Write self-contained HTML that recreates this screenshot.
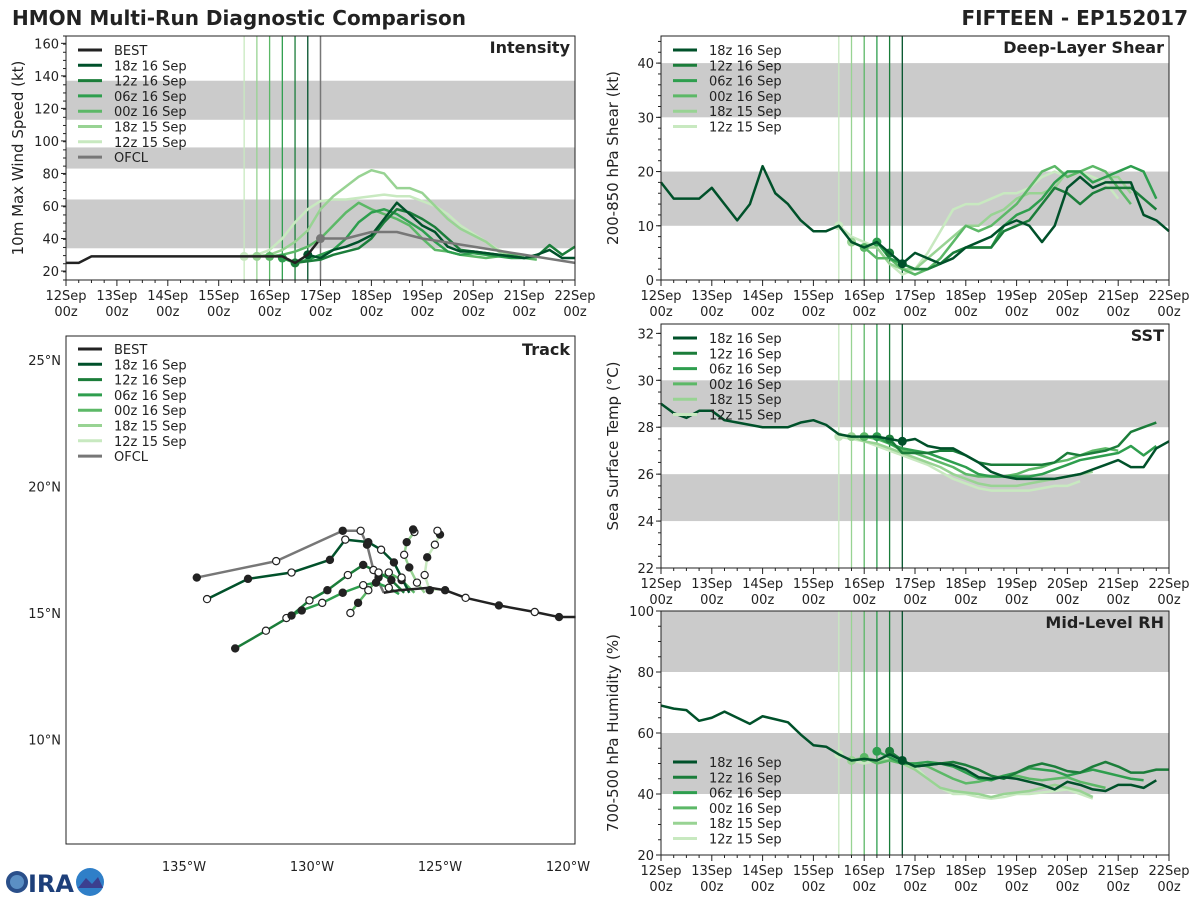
<!DOCTYPE html>
<html><head><meta charset="utf-8"><style>
body{margin:0;background:#fff;}
svg text{font-family:"DejaVu Sans","Liberation Sans",sans-serif;}
</style></head><body>
<svg id="c" width="1200" height="900" viewBox="0 0 1200 900" xmlns="http://www.w3.org/2000/svg">
<text x="12" y="25" font-size="20" font-weight="bold" fill="#222">HMON Multi-Run Diagnostic Comparison</text>
<text x="1188" y="25" font-size="20" font-weight="bold" fill="#222" text-anchor="end">FIFTEEN - EP152017</text>
<g>
<circle cx="17" cy="882" r="11" fill="#2a4f8a"/><circle cx="17" cy="882" r="7" fill="#5b8fc4"/>
<text x="28" y="892" font-size="24" font-weight="bold" fill="#1d3f7a" font-family="Liberation Sans">IRA</text>
<circle cx="90" cy="882" r="14" fill="#2f7fc8"/><path d="M78,888 L86,878 L92,884 L98,877 L103,888Z" fill="#3b3f8f"/>
</g>
</svg>
<script>
const COLORS=["#222222","#00512a","#1b7d3a","#2e9e4e","#5cb867","#98d393","#c8e9c0","#777777"];
const MODEL_NAMES=["18z 16 Sep","12z 16 Sep","06z 16 Sep","00z 16 Sep","18z 15 Sep","12z 15 Sep"];
const MODEL_INIT=[4.75,4.5,4.25,4.0,3.75,3.5];
const MODEL_COLORS=[COLORS[1],COLORS[2],COLORS[3],COLORS[4],COLORS[5],COLORS[6]];
const X_TICKS=["12Sep","13Sep","14Sep","15Sep","16Sep","17Sep","18Sep","19Sep","20Sep","21Sep","22Sep"];
// Intensity (kt), 6-hourly
const INT_BEST=[25,25,29,29,29,29,29,29,29,29,29,29,29,29,29,29,29,29,25,30,40];
const INT_MODELS=[
[30,28,33,35,38,42,52,62,55,48,44,35,32,32,31,30,29,28,30,33,28,28],
[25,26,27,30,32,34,40,50,58,56,52,47,40,33,32,31,30,29,28,29,36,30,35],
[28,25,27,30,33,40,50,56,58,55,50,45,38,32,30,31,30,29,28,28,30],
[29,30,32,35,40,48,56,62,58,55,52,48,40,33,32,30,29,28,29,30,28,27],
[29,30,33,38,45,58,66,72,78,82,80,71,71,68,60,52,46,42,38,32,30,29],
[29,30,33,40,50,58,63,64,64,65,66,67,66,66,63,60,55,48,43,38,33,30,28]];
const INT_OFCL_T=[5.0,5.5,6.0,6.5,7.0,8.0,9.0,10.0];
const INT_OFCL=[40,40,44,44,40,35,30,25];
// Shear (kt)
const SHR_BEST=[18,15,15,15,17,14,11,14,21,16,14,11,9,9,10,7,6,7,5,3];
const SHR_MODELS=[
[3,5,4,3,4,6,7,8,10,11,10,7,10,17,19,17,18,18,18,12,11,9],
[5,3,2,2,3,5,6,6,6,9,10,11,14,17,16,14,16,17,17,17,15,13],
[7,4,3,2,2,3,5,6,6,6,10,12,13,15,18,20,20,18,19,20,21,20,15],
[6,4,4,2,1,2,4,7,10,9,10,12,14,17,20,21,19,20,21,20,17,14],
[7,6,6,3,2,2,4,6,8,10,10,12,13,15,16,16,17,20,20,18,19,19,16],
[10,8,7,6,3,1,2,5,9,13,14,14,15,16,16,17,19,20,19,20,19,18,15]];
// SST (C)
const SST_BEST=[29,28.6,28.4,28.7,28.7,28.3,28.2,28.1,28,28,28,28.2,28.3,28.1,27.7,27.6,27.6,27.6,27.5,27.4];
const SST_MODELS=[
[27.4,27.5,27.2,27.1,27.1,26.8,26.5,26.1,25.9,25.8,25.8,25.8,25.8,25.9,26.0,26.2,26.4,26.6,26.3,26.3,27.1,27.4],
[27.5,26.9,26.9,26.9,27.0,27.0,26.8,26.5,26.4,26.4,26.4,26.4,26.4,26.5,26.9,26.8,26.9,27.0,27.2,27.8,28.0,28.2],
[27.6,27.3,27.1,27.0,26.9,26.7,26.5,26.3,26.0,25.9,25.9,25.9,25.9,26.0,26.2,26.4,26.6,26.7,26.8,26.9,27.2,26.8,27.2],
[27.6,27.5,27.3,27.0,26.9,26.7,26.5,26.3,26.0,25.9,25.9,25.9,26.0,26.2,26.3,26.5,26.6,26.8,27.0,27.1,27.0],
[27.6,27.4,27.3,27.1,26.9,26.7,26.5,26.3,26.0,25.8,25.6,25.5,25.5,25.5,25.6,25.7,25.8,25.9,26.0,26.1],
[27.6,27.5,27.4,27.2,27.0,26.8,26.6,26.4,26.1,25.8,25.6,25.4,25.3,25.3,25.3,25.3,25.4,25.5,25.5,25.7]];
// RH (%)
const RH_BEST=[69,68,67.5,64,65,67,65,63,65.5,64.5,63.5,59.5,56,55.5,53,51,51.5,51,53,51];
const RH_MODELS=[
[51,49,49.5,50,49.5,48,45.5,45,45.5,45,44,43,41.5,44,43,41.5,41,43,43,42,44.5],
[54,51,49,49.5,50,50.5,49.5,48,46,45,47,49,50,49,47.5,47,49,50.5,49,47,47,48,48],
[54,52,50,50,50.5,50,49,47,45,44.5,46,47,48.5,48,47.5,46,47,48,47,46,45,44.5],
[52,50,51,50,50,49,47,45,43.5,44,45,46,46,45,44.5,45,45.5,44,43,42],
[51,52,51,51,50,48,45,42,41,40.5,40,39,40,40.5,41,42,43,42,41,39],
[53,51,50,51,52,51,49,45,42,40,40,39,38.5,39,40,40,40.5,41,41.5,40,38.5]];
// Track (lon, lat)
const TRK_BEST_LON=[-119.7,-120.35,-121.3,-122.7,-124.0,-124.8,-125.4,-126.0,-126.6,-127.2];
const TRK_BEST_LAT=[14.84,14.84,15.04,15.3,15.6,15.9,16.0,15.95,15.9,15.8];
const TRK_OFCL_LON=[-127.2,-127.6,-127.85,-128.1,-128.8,-131.4,-134.5];
const TRK_OFCL_LAT=[15.8,16.7,17.7,18.25,18.25,17.05,16.4];
const TRK_MODELS_LON=[
[-126.2,-126.5,-126.8,-127.3,-127.8,-128.7,-129.3,-130.8,-132.5,-134.1],
[-126.4,-126.9,-127.4,-128.0,-128.6,-129.4,-130.1,-130.8,-131.8,-133.0],
[-126.6,-127.0,-127.5,-128.0,-128.8,-129.6,-130.4,-131.0],
[-126.0,-126.5,-127.0,-127.4,-127.8,-128.2,-128.5],
[-125.6,-125.9,-126.2,-126.4,-126.3,-126.0,-126.05],
[-125.0,-125.4,-125.6,-125.5,-125.2,-125.0,-125.1]];
const TRK_MODELS_LAT=[
[15.8,16.4,17.0,17.5,17.8,17.9,17.1,16.6,16.35,15.55],
[15.8,16.3,16.6,16.9,16.5,15.9,15.5,14.9,14.3,13.6],
[15.75,16.0,16.2,16.1,15.8,15.4,15.1,14.8],
[15.8,16.3,16.6,16.4,15.9,15.4,15.0],
[15.8,16.2,16.8,17.3,17.8,18.2,18.3],
[15.95,15.9,16.5,17.2,17.7,18.1,18.25]];

const svg=document.getElementById('c');
const NS="http://www.w3.org/2000/svg";
function mk(tag,attrs,parent){const e=document.createElementNS(NS,tag);for(const k in attrs)e.setAttribute(k,attrs[k]);(parent||svg).appendChild(e);return e;}

function timePanel(cfg){
  const {x0,x1,y0,y1,ymin,ymax,yticks,bands,title,ylabel,key}=cfg;
  const g=mk('g',{});
  
  
  const X=t=>x0+(x1-x0)*t/10, Y=v=>y1-(y1-y0)*(v-ymin)/(ymax-ymin);
  bands.forEach(b=>{const r=mk('rect',{x:x0,y:Y(b[1]),width:x1-x0,height:Y(b[0])-Y(b[1]),fill:'#cbcbcb'},g);
    
    });
  MODEL_INIT.forEach((t,i)=>{const l=mk('line',{x1:X(t),x2:X(t),y1:y0,y2:y1,stroke:MODEL_COLORS[i],'stroke-width':1.3},g);
    
    });
  if(cfg.ofcl){const l=mk('line',{x1:X(5),x2:X(5),y1:y0,y2:y1,stroke:'#777','stroke-width':1.5},g);
    
    }
  const line=(ts,vs,col,w,name)=>{const p=mk('polyline',{points:vs.map((v,j)=>X(ts[j])+','+Y(v)).join(' '),fill:'none',stroke:col,'stroke-width':w,'stroke-linejoin':'round'},g);
    
    };
  const best=cfg.best;
  for(let i=5;i>=0;i--){const vs=cfg.models[i];const ts=vs.map((_,j)=>MODEL_INIT[i]+j*0.25);
    line(ts,vs,MODEL_COLORS[i],2.5,key+'-series-'+i);
    const d=mk('circle',{cx:X(MODEL_INIT[i]),cy:Y(vs[0]),r:4.5,fill:MODEL_COLORS[i]},g);
    
    }
  line(best.map((_,j)=>j*0.25),best,cfg.bestColor||'#222',2.5,key+'-best');
  if(cfg.ofcl){line(INT_OFCL_T,INT_OFCL,'#777',2.5,'ofcl-series');
    const d=mk('circle',{cx:X(5),cy:Y(INT_OFCL[0]),r:4.5,fill:'#777'},g);
    
    }
  const f=mk('rect',{x:x0,y:y0,width:x1-x0,height:y1-y0,fill:'none',stroke:'#222','stroke-width':1},g);
  
  
  yticks.forEach(v=>{mk('line',{x1:x0-5,x2:x0,y1:Y(v),y2:Y(v),stroke:'#222'},g);
    const t=mk('text',{x:x0-7,y:Y(v)+5,'font-size':13,'text-anchor':'end',fill:'#222'},g);t.textContent=v;
    
    });
  for(let v=ymin;v<=ymax;v+=cfg.minor){if(v<ymin)continue;mk('line',{x1:x0-3,x2:x0,y1:Y(v),y2:Y(v),stroke:'#222'},g);}
  for(let k=0;k<=40;k++){const xx=X(k/4);mk('line',{x1:xx,x2:xx,y1:y1,y2:y1+(k%4?3:6),stroke:'#222'},g);}
  X_TICKS.forEach((s,k)=>{const t=mk('text',{x:X(k),y:y1+20,'font-size':13,'text-anchor':'middle',fill:'#222'},g);t.textContent=s;
    
    
    const t2=mk('text',{x:X(k),y:y1+36,'font-size':13,'text-anchor':'middle',fill:'#222'},g);t2.textContent='00z';});
  const yl=mk('text',{x:0,y:0,'font-size':15,'text-anchor':'middle',fill:'#222',transform:`translate(${x0-43},${(y0+y1)/2}) rotate(-90)`},g);yl.textContent=ylabel;
  
  
  const tt=mk('text',{x:x1-5,y:y0+17,'font-size':16,'font-weight':'bold','text-anchor':'end',fill:'#222'},g);tt.textContent=title;
  
  
  legend(g,cfg.legendX,cfg.legendY,cfg.legendItems);
}
function legend(g,lx,ly,items){
  items.forEach((it,i)=>{const yy=ly+i*15.3;
    mk('line',{x1:lx,x2:lx+24,y1:yy,y2:yy,stroke:it[1],'stroke-width':3},g);
    const t=mk('text',{x:lx+36,y:yy+5,'font-size':13,fill:'#222'},g);t.textContent=it[0];
    
    });
}
const modelItems=MODEL_NAMES.map((n,i)=>[n,MODEL_COLORS[i]]);
const fullItems=[['BEST','#222']].concat(modelItems).concat([['OFCL','#777']]);

timePanel({key:'intensity',x0:66,x1:575,y0:36,y1:280,ymin:14.5,ymax:164.5,yticks:[20,40,60,80,100,120,140,160],minor:5,
  bands:[[34,64],[83,96],[113,137]],title:'Intensity',ylabel:'10m Max Wind Speed (kt)',best:INT_BEST,models:INT_MODELS,ofcl:true,
  legendX:78,legendY:50,legendItems:fullItems});
timePanel({key:'shear',x0:661,x1:1169,y0:36,y1:280,ymin:0,ymax:45,yticks:[0,10,20,30,40],minor:2,
  bands:[[10,20],[30,40]],title:'Deep-Layer Shear',ylabel:'200-850 hPa Shear (kt)',best:SHR_BEST,bestColor:COLORS[1],models:SHR_MODELS,
  legendX:673,legendY:50,legendItems:modelItems});
timePanel({key:'sst',x0:661,x1:1169,y0:324,y1:568,ymin:22,ymax:32.4,yticks:[22,24,26,28,30,32],minor:0.5,
  bands:[[24,26],[28,30]],title:'SST',ylabel:'Sea Surface Temp (°C)',best:SST_BEST,bestColor:COLORS[1],models:SST_MODELS,
  legendX:673,legendY:338,legendItems:modelItems});
timePanel({key:'rh',x0:661,x1:1169,y0:611,y1:855,ymin:20,ymax:100,yticks:[20,40,60,80,100],minor:5,
  bands:[[40,60],[80,100]],title:'Mid-Level RH',ylabel:'700-500 hPa Humidity (%)',best:RH_BEST,bestColor:COLORS[1],models:RH_MODELS,
  legendX:673,legendY:762,legendItems:modelItems});

(function(){
  const x0=66,x1=575,y0=336,y1=844;
  const g=mk('g',{});
  
  
  const LX=lon=>184+(lon+135)*25.6, LY=lat=>613-(lat-15)*25.3;
  const path=(lons,lats,col,name)=>{const p=mk('polyline',{points:lons.map((v,j)=>LX(v)+','+LY(lats[j])).join(' '),fill:'none',stroke:col,'stroke-width':2.5,'stroke-linejoin':'round'},g);
    
    };
  const dots=(lons,lats,start)=>{lons.forEach((v,j)=>{if(j===0)return;const filled=(j+start)%2===0;
    const c=mk('circle',{cx:LX(v),cy:LY(lats[j]),r:3.6,fill:filled?'#222':'#fff',stroke:'#222','stroke-width':1.2},g);
    
    });};
  path(TRK_OFCL_LON,TRK_OFCL_LAT,'#777','ofcl-track');
  for(let i=5;i>=0;i--)path(TRK_MODELS_LON[i],TRK_MODELS_LAT[i],MODEL_COLORS[i],'track-series-'+i);
  path(TRK_BEST_LON,TRK_BEST_LAT,'#222','best-track');
  dots(TRK_OFCL_LON,TRK_OFCL_LAT,0);
  for(let i=5;i>=0;i--)dots(TRK_MODELS_LON[i],TRK_MODELS_LAT[i],i);
  dots(TRK_BEST_LON.slice(0,6),TRK_BEST_LAT.slice(0,6),1);
  const f=mk('rect',{x:x0,y:y0,width:x1-x0,height:y1-y0,fill:'none',stroke:'#222'},g);
  
  
  [25,20,15,10].forEach(l=>{const t=mk('text',{x:x0-5,y:LY(l)+5,'font-size':13,'text-anchor':'end',fill:'#222'},g);t.textContent=l+'°N';
    
    });
  [135,130,125,120].forEach(l=>{const t=mk('text',{x:LX(-l),y:y1+27,'font-size':13,'text-anchor':'middle',fill:'#222'},g);t.textContent=l+'°W';
    
    });
  const tt=mk('text',{x:x1-5,y:y0+19,'font-size':16,'font-weight':'bold','text-anchor':'end',fill:'#222'},g);tt.textContent='Track';
  
  
  legend(g,78,349,fullItems);
})();
</script>
</body></html>
